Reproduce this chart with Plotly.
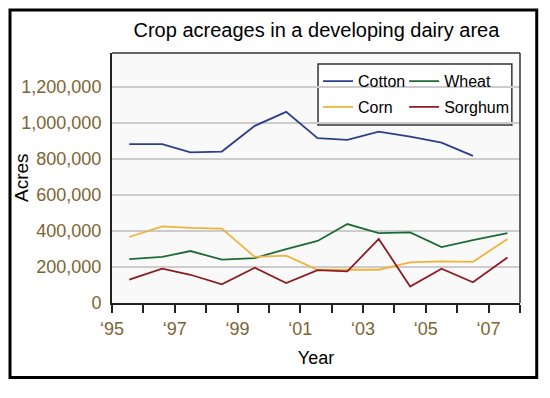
import plotly.graph_objects as go

# ---- data ----
years = [1995.55, 1996.6, 1997.5, 1998.5, 1999.55, 2000.55, 2001.55,
         2002.5, 2003.5, 2004.5, 2005.5, 2006.5, 2007.6]
cotton = [883000, 883000, 837000, 842000, 985000, 1063000, 917000,
          907000, 953000, 925000, 892000, 818000]
wheat = [244000, 256000, 289000, 241000, 250000, 300000, 345000,
         439000, 389000, 393000, 311000, 350000, 388000]
corn = [367000, 426000, 418000, 414000, 256000, 263000, 185000,
        185000, 185000, 226000, 231000, 229000, 356000]
sorghum = [130000, 191000, 157000, 104000, 196000, 111000, 183000,
           176000, 356000, 92000, 191000, 115000, 253000]

xtick_vals = list(range(1995, 2009))
xtick_text = ["\u201895", "", "\u201897", "", "\u201899", "", "\u201801", "",
              "\u201803", "", "\u201805", "", "\u201807", ""]
ytick_vals = [0, 200000, 400000, 600000, 800000, 1000000, 1200000]

FONT = "Liberation Sans, Arial, sans-serif"
TICKCOL = "#7d6432"

fig = go.Figure()
series = [
    ("Cotton", cotton, "#2b3f8c", "legend"),
    ("Wheat", wheat, "#1f6b35", "legend2"),
    ("Corn", corn, "#f0b33c", "legend3"),
    ("Sorghum", sorghum, "#8c1c24", "legend4"),
]
for name, vals, col, lg in series:
    fig.add_trace(go.Scatter(
        x=years[:len(vals)], y=vals, name=name, mode="lines",
        line=dict(color=col, width=1.8), legend=lg,
    ))

legend_common = dict(xanchor="left", yanchor="top",
                     bgcolor="rgba(0,0,0,0)", font=dict(size=16, family=FONT),
                     itemwidth=30)
col1_x, col2_x = 0.505, 0.716
row1_y, row2_y = 0.955, 0.852

fig.update_layout(
    width=542, height=390,
    margin=dict(l=104, r=30, t=45, b=95),
    paper_bgcolor="white",
    plot_bgcolor="#f9f9f9",
    font=dict(family=FONT, color="black"),
    title=dict(text="Crop acreages in a developing dairy area",
               x=0.569, xanchor="center", y=0.9436, yanchor="middle",
               font=dict(size=20, color="black", family=FONT)),
    showlegend=True,
    legend=dict(x=col1_x, y=row1_y, **legend_common),
    legend2=dict(x=col2_x, y=row1_y, **legend_common),
    legend3=dict(x=col1_x, y=row2_y, **legend_common),
    legend4=dict(x=col2_x, y=row2_y, **legend_common),
    xaxis=dict(range=[1995, 2008], tickvals=xtick_vals, ticktext=xtick_text,
               ticks="outside", ticklen=8, tickwidth=1.5, tickcolor="#222",
               showline=True, linecolor="#222", linewidth=2, mirror=False,
               showgrid=False, zeroline=False,
               tickfont=dict(size=18, color=TICKCOL, family=FONT),
               title=dict(text="Year", font=dict(size=18, color="black", family=FONT),
                          standoff=14)),
    yaxis=dict(range=[0, 1390000], tickvals=ytick_vals, tickformat=",d",
               ticks="", ticklabelstandoff=5,
               showline=True, linecolor="#222", linewidth=2,
               showgrid=True, gridcolor="#cccccc", gridwidth=1.5, zeroline=False,
               tickfont=dict(size=18, color=TICKCOL, family=FONT)),
    annotations=[dict(text="Acres", x=-0.223, y=0.5, xref="paper", yref="paper",
                      xanchor="center", yanchor="middle",
                      textangle=-90, showarrow=False,
                      font=dict(size=19, color="black", family=FONT))],
    shapes=[
        # plot frame top/right
        dict(type="line", xref="paper", yref="paper", x0=0, x1=1, y0=1, y1=1,
             line=dict(color="#333", width=1.5)),
        dict(type="line", xref="paper", yref="paper", x0=1, x1=1, y0=0, y1=1,
             line=dict(color="#333", width=1.5)),
        # legend box
        dict(type="rect", xref="paper", yref="paper", x0=0.505, x1=0.98,
             y0=0.712, y1=0.956, line=dict(color="#333", width=1.5),
             fillcolor="white", layer="below"),
        # outer border
        dict(type="rect", xref="paper", yref="paper", x0=-0.25, x1=1.041,
             y0=-0.298, y1=1.172, line=dict(color="black", width=3)),
    ],
)

fig.write_html("out.html")
